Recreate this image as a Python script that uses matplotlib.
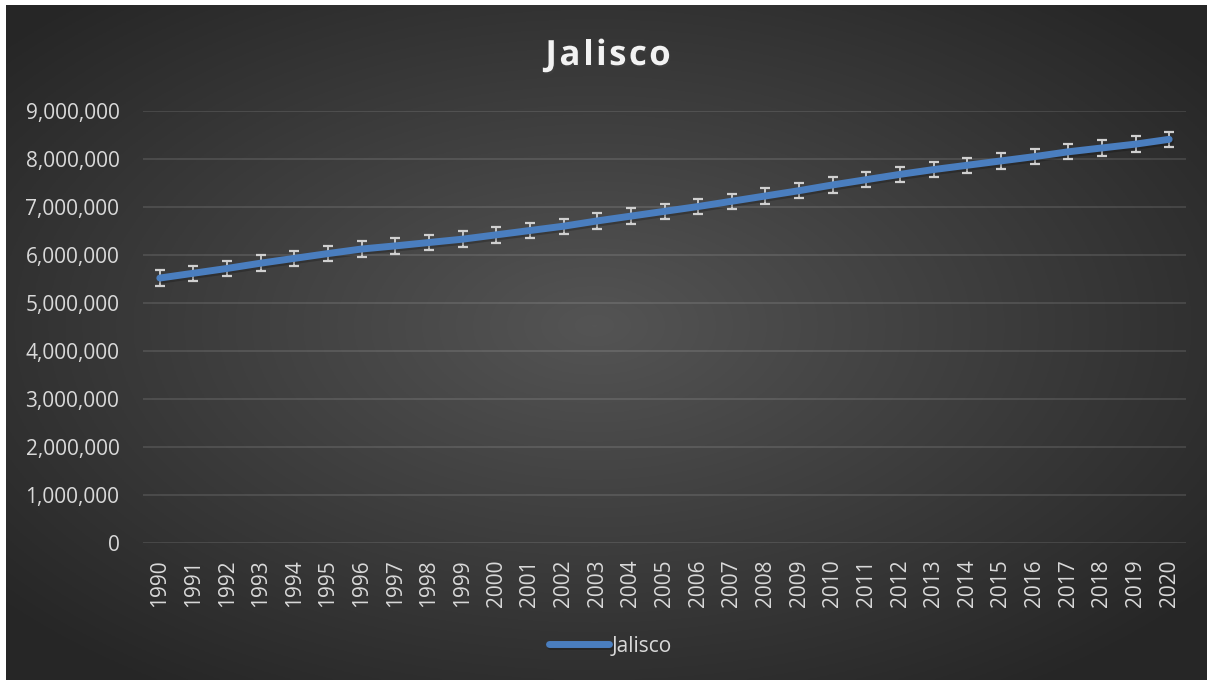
import matplotlib.pyplot as plt
import matplotlib.patheffects as pe
import numpy as np

plt.rcParams['font.family'] = ['Open Sans', 'DejaVu Sans']

years = [str(y) for y in range(1990, 2021)]
population = [5520000, 5620000, 5720000, 5830000, 5930000, 6030000, 6125000, 6190000,
              6260000, 6330000, 6420000, 6510000, 6600000, 6710000, 6810000, 6910000,
              7010000, 7120000, 7230000, 7340000, 7460000, 7570000, 7680000, 7780000,
              7870000, 7960000, 8050000, 8150000, 8230000, 8310000, 8410000]
error = 160000
yticks = [0, 1000000, 2000000, 3000000, 4000000, 5000000, 6000000, 7000000, 8000000, 9000000]
title = 'Jalisco'

W, H = 1213, 685
fig = plt.figure(figsize=(W / 100, H / 100), dpi=100, facecolor='white')

# dark radial gradient background, like the Excel chart style
bg = fig.add_axes([6 / W, 5 / H, 1201 / W, 675 / H])
gx, gy = np.meshgrid(np.linspace(-1, 1, 600), np.linspace(-1, 1, 340))
dist = np.clip(np.sqrt((gx + 0.02) ** 2 + (gy + 0.05) ** 2) / 1.3, 0, 1)
shade = 0.33 - 0.18 * dist
bg.imshow(np.dstack([shade, shade, shade]), aspect='auto', extent=[0, 1, 0, 1])
bg.axis('off')

ax = fig.add_axes([143 / W, 1 - 543 / H, 1043 / W, 432 / H])
ax.patch.set_alpha(0)
x = np.arange(len(years))

ax.errorbar(x, population, yerr=error, fmt='none', ecolor='#d0d0d0', elinewidth=1.3,
            capsize=3.8, capthick=1.6, zorder=2)
ax.plot(x, population, color='#4a7ebf', lw=5.0, solid_capstyle='round', label='Jalisco', zorder=3,
        path_effects=[pe.SimpleLineShadow(offset=(1, -1.5), alpha=0.22), pe.Normal()])

ax.set_xlim(-0.5, len(years) - 0.5)
ax.set_ylim(0, 9000000)
ax.set_yticks(yticks)
ax.set_yticklabels([f'{v:,}' for v in yticks])
ax.set_xticks(x)
ax.set_xticklabels(years, rotation=90)
ax.tick_params(axis='y', length=0, pad=17, labelsize=15, labelcolor='#d9d9d9')
ax.tick_params(axis='x', length=0, pad=12, labelsize=15, labelcolor='#d9d9d9')
ax.grid(axis='y', color='white', alpha=0.12, lw=1.3)
ax.set_axisbelow(True)
for s in ax.spines.values():
    s.set_visible(False)

# letter-spaced bold title
renderer = fig.canvas.get_renderer()
chars = []
for ch in title:
    t = fig.text(0, 1 - 65 / H, ch, ha='left', va='baseline', fontsize=25, fontweight='bold',
                 color='#f2f2f2',
                 path_effects=[pe.withSimplePatchShadow(offset=(1, -1.5), alpha=0.3)])
    chars.append(t)
widths = [t.get_window_extent(renderer).width for t in chars]
gap = 2.5
total = sum(widths) + gap * (len(chars) - 1)
xpos = 608 - total / 2
for t, w in zip(chars, widths):
    t.set_x(xpos / W)
    xpos += w + gap

leg = fig.legend(loc='center', bbox_to_anchor=(0.503, 1 - 646 / H), frameon=False,
                 fontsize=15, handlelength=2.9, handletextpad=0.1)
for t in leg.get_texts():
    t.set_color('#d9d9d9')

plt.savefig('out.png', dpi=100, facecolor='white')
